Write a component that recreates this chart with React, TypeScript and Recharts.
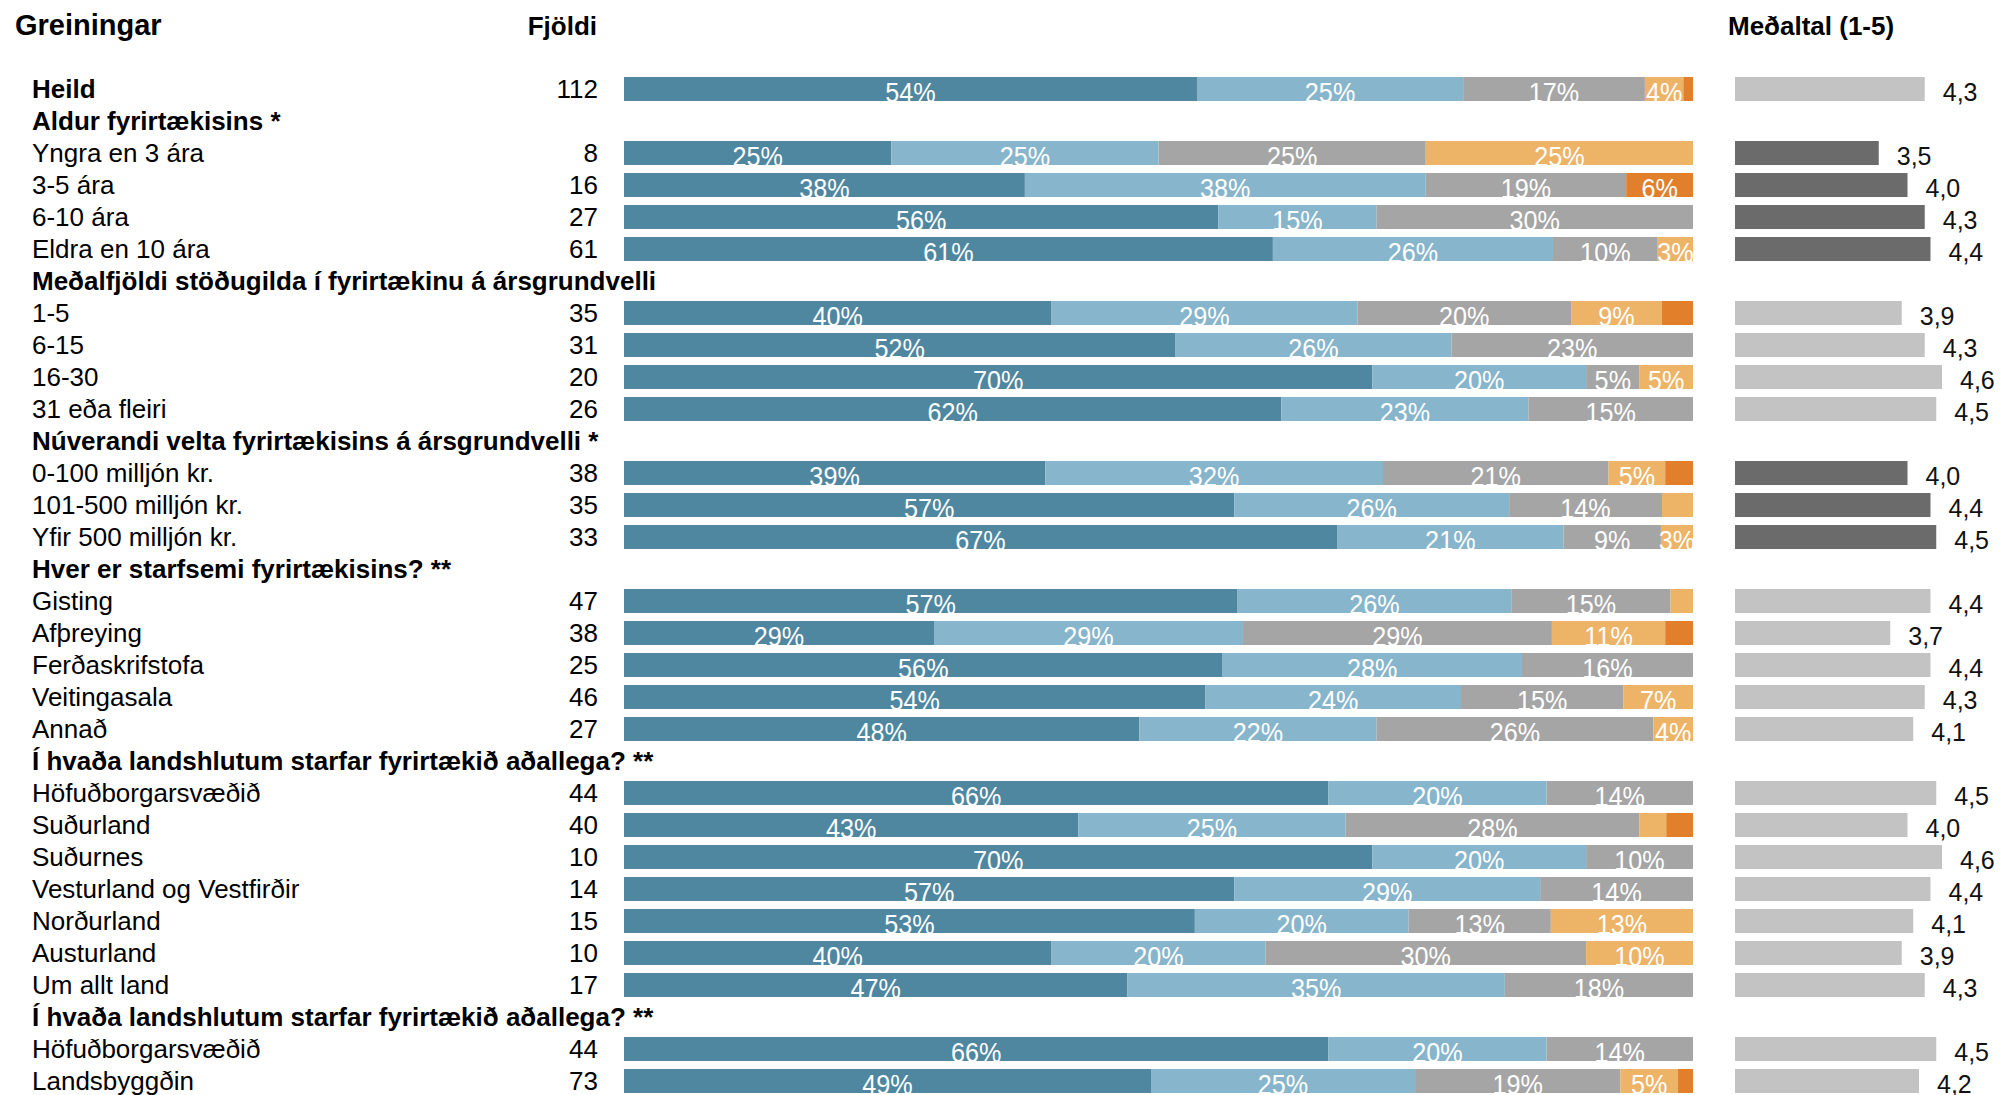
import React from "react";
import { BarChart, Bar, XAxis, YAxis, LabelList, Cell } from "recharts";

const labels = [
  "Heild",
  "Aldur fyrirtækisins *",
  "Yngra en 3 ára",
  "3-5 ára",
  "6-10 ára",
  "Eldra en 10 ára",
  "Meðalfjöldi stöðugilda í fyrirtækinu á ársgrundvelli",
  "1-5",
  "6-15",
  "16-30",
  "31 eða fleiri",
  "Núverandi velta fyrirtækisins á ársgrundvelli *",
  "0-100 milljón kr.",
  "101-500 milljón kr.",
  "Yfir 500 milljón kr.",
  "Hver er starfsemi fyrirtækisins? **",
  "Gisting",
  "Afþreying",
  "Ferðaskrifstofa",
  "Veitingasala",
  "Annað",
  "Í hvaða landshlutum starfar fyrirtækið aðallega? **",
  "Höfuðborgarsvæðið",
  "Suðurland",
  "Suðurnes",
  "Vesturland og Vestfirðir",
  "Norðurland",
  "Austurland",
  "Um allt land",
  "Í hvaða landshlutum starfar fyrirtækið aðallega? **",
  "Höfuðborgarsvæðið",
  "Landsbyggðin",
];

const groupHeaders = [1, 6, 11, 15, 21, 29];
const darkMeanRows = [2, 3, 4, 5, 12, 13, 14];

const counts = [112, null, 8, 16, 27, 61, null, 35, 31, 20, 26, null, 38, 35, 33, null, 47, 38, 25, 46, 27, null, 44, 40, 10, 14, 15, 10, 17, null, 44, 73];

// svarhlutföll (%)
const s1 = [53.6, null, 25, 37.5, 55.6, 60.7, null, 40, 51.6, 70, 61.5, null, 39.4, 57.1, 66.7, null, 57.4, 29.0, 56, 54.4, 48.2, null, 65.9, 42.5, 70, 57.1, 53.4, 40, 47.1, null, 65.9, 49.3];
const s2 = [24.9, null, 25, 37.5, 14.8, 26.2, null, 28.6, 25.8, 20, 23.1, null, 31.6, 25.7, 21.2, null, 25.6, 28.9, 28, 23.9, 22.2, null, 20.4, 25, 20, 28.6, 20, 20, 35.3, null, 20.4, 24.7];
const s3 = [17.0, null, 25, 18.75, 29.6, 9.8, null, 20, 22.6, 5, 15.4, null, 21.1, 14.3, 9.1, null, 14.9, 28.9, 16, 15.2, 25.9, null, 13.7, 27.5, 10, 14.3, 13.3, 30, 17.6, null, 13.7, 19.2];
const s4 = [3.6, null, 25, 0, 0, 3.3, null, 8.5, 0, 5, 0, null, 5.3, 2.9, 3.0, null, 2.1, 10.6, 0, 6.5, 3.7, null, 0, 2.5, 0, 0, 13.3, 10, 0, null, 0, 5.4];
const s5 = [0.9, null, 0, 6.25, 0, 0, null, 2.9, 0, 0, 0, null, 2.6, 0, 0, null, 0, 2.6, 0, 0, 0, null, 0, 2.5, 0, 0, 0, 0, 0, null, 0, 1.4];

const means = [4.3, null, 3.5, 4.0, 4.3, 4.4, null, 3.9, 4.3, 4.6, 4.5, null, 4.0, 4.4, 4.5, null, 4.4, 3.7, 4.4, 4.3, 4.1, null, 4.5, 4.0, 4.6, 4.4, 4.1, 3.9, 4.3, null, 4.5, 4.2];

const SERIES = [
  { key: "s1", color: "#4F87A1" },
  { key: "s2", color: "#87B5CB" },
  { key: "s3", color: "#A5A5A5" },
  { key: "s4", color: "#EDB367" },
  { key: "s5", color: "#E17F2A" },
];

const FONT = "'Liberation Sans', Arial, sans-serif";

const data = labels.map((label, i) => ({
  id: i,
  label,
  count: counts[i],
  s1: s1[i],
  s2: s2[i],
  s3: s3[i],
  s4: s4[i],
  s5: s5[i],
  mean: means[i],
}));

const H = 1100;
const MARGIN = { top: 73, bottom: 3 };

function RowTick({ y, payload }: any) {
  const i = payload.value;
  const bold = i === 0 || groupHeaders.includes(i);
  return (
    <g>
      <text x={32} y={y} dy="0.36em" fontSize={26} fontFamily={FONT} fontWeight={bold ? 700 : 400} fill="#000">
        {labels[i]}
      </text>
      {counts[i] != null && (
        <text x={598} y={y} dy="0.36em" textAnchor="end" fontSize={26} fontFamily={FONT} fill="#000">
          {counts[i]}
        </text>
      )}
    </g>
  );
}

// white percentage text, a bit squeezed, sitting low in the bar
function PctLabel({ x, y, width, height, value }: any) {
  if (value == null || value < 3) return null;
  const cx = x + width / 2;
  const cy = y + height / 2 + 3;
  return (
    <g transform={`translate(${cx},${cy}) scale(0.9,1)`}>
      <text x={0} y={0} dy="0.36em" textAnchor="middle" fontSize={28} fontFamily={FONT} fill="#fff">
        {Math.round(value)}%
      </text>
    </g>
  );
}

function MeanLabel({ x, y, width, height, value }: any) {
  if (value == null) return null;
  return (
    <text x={x + width + 18} y={y + height / 2 + 3} dy="0.36em" fontSize={25} fontFamily={FONT} fill="#111">
      {value.toFixed(1).replace(".", ",")}
    </text>
  );
}

export default function App() {
  return (
    <div style={{ position: "absolute", left: 0, top: 0, width: 2000, height: 1095, background: "#fff", overflow: "hidden" }}>
      <div style={{ position: "absolute", left: 15, top: 8, height: 34, lineHeight: "34px", fontSize: 29, fontWeight: 700, fontFamily: FONT }}>
        Greiningar
      </div>
      <div style={{ position: "absolute", left: 497, width: 100, textAlign: "right", top: 9, height: 34, lineHeight: "34px", fontSize: 26, fontWeight: 700, fontFamily: FONT }}>
        Fjöldi
      </div>
      <div style={{ position: "absolute", left: 1728, top: 9, height: 34, lineHeight: "34px", fontSize: 26, fontWeight: 700, fontFamily: FONT }}>
        Meðaltal (1-5)
      </div>

      <div style={{ position: "absolute", left: 0, top: 0 }}>
        <BarChart width={1700} height={H} data={data} layout="vertical" margin={{ ...MARGIN, left: 0, right: 7 }} barSize={24}>
          <XAxis type="number" domain={[0, 100]} allowDataOverflow hide />
          <YAxis type="category" dataKey="id" width={624} interval={0} axisLine={false} tickLine={false} tick={<RowTick />} />
          {SERIES.map((s) => (
            <Bar key={s.key} dataKey={s.key} stackId="a" fill={s.color} isAnimationActive={false}>
              <LabelList dataKey={s.key} content={<PctLabel />} />
            </Bar>
          ))}
        </BarChart>
      </div>

      <div style={{ position: "absolute", left: 1700, top: 0 }}>
        <BarChart width={300} height={H} data={data} layout="vertical" margin={{ ...MARGIN, left: 35, right: 35 }} barSize={24} style={{ overflow: "visible" }}>
          <XAxis type="number" domain={[1, 5]} hide />
          <YAxis type="category" dataKey="id" hide interval={0} />
          <Bar dataKey="mean" isAnimationActive={false}>
            {data.map((d, i) => (
              <Cell key={i} fill={darkMeanRows.includes(i) ? "#6B6B6B" : "#C3C3C3"} />
            ))}
            <LabelList dataKey="mean" content={<MeanLabel />} />
          </Bar>
        </BarChart>
      </div>
    </div>
  );
}
